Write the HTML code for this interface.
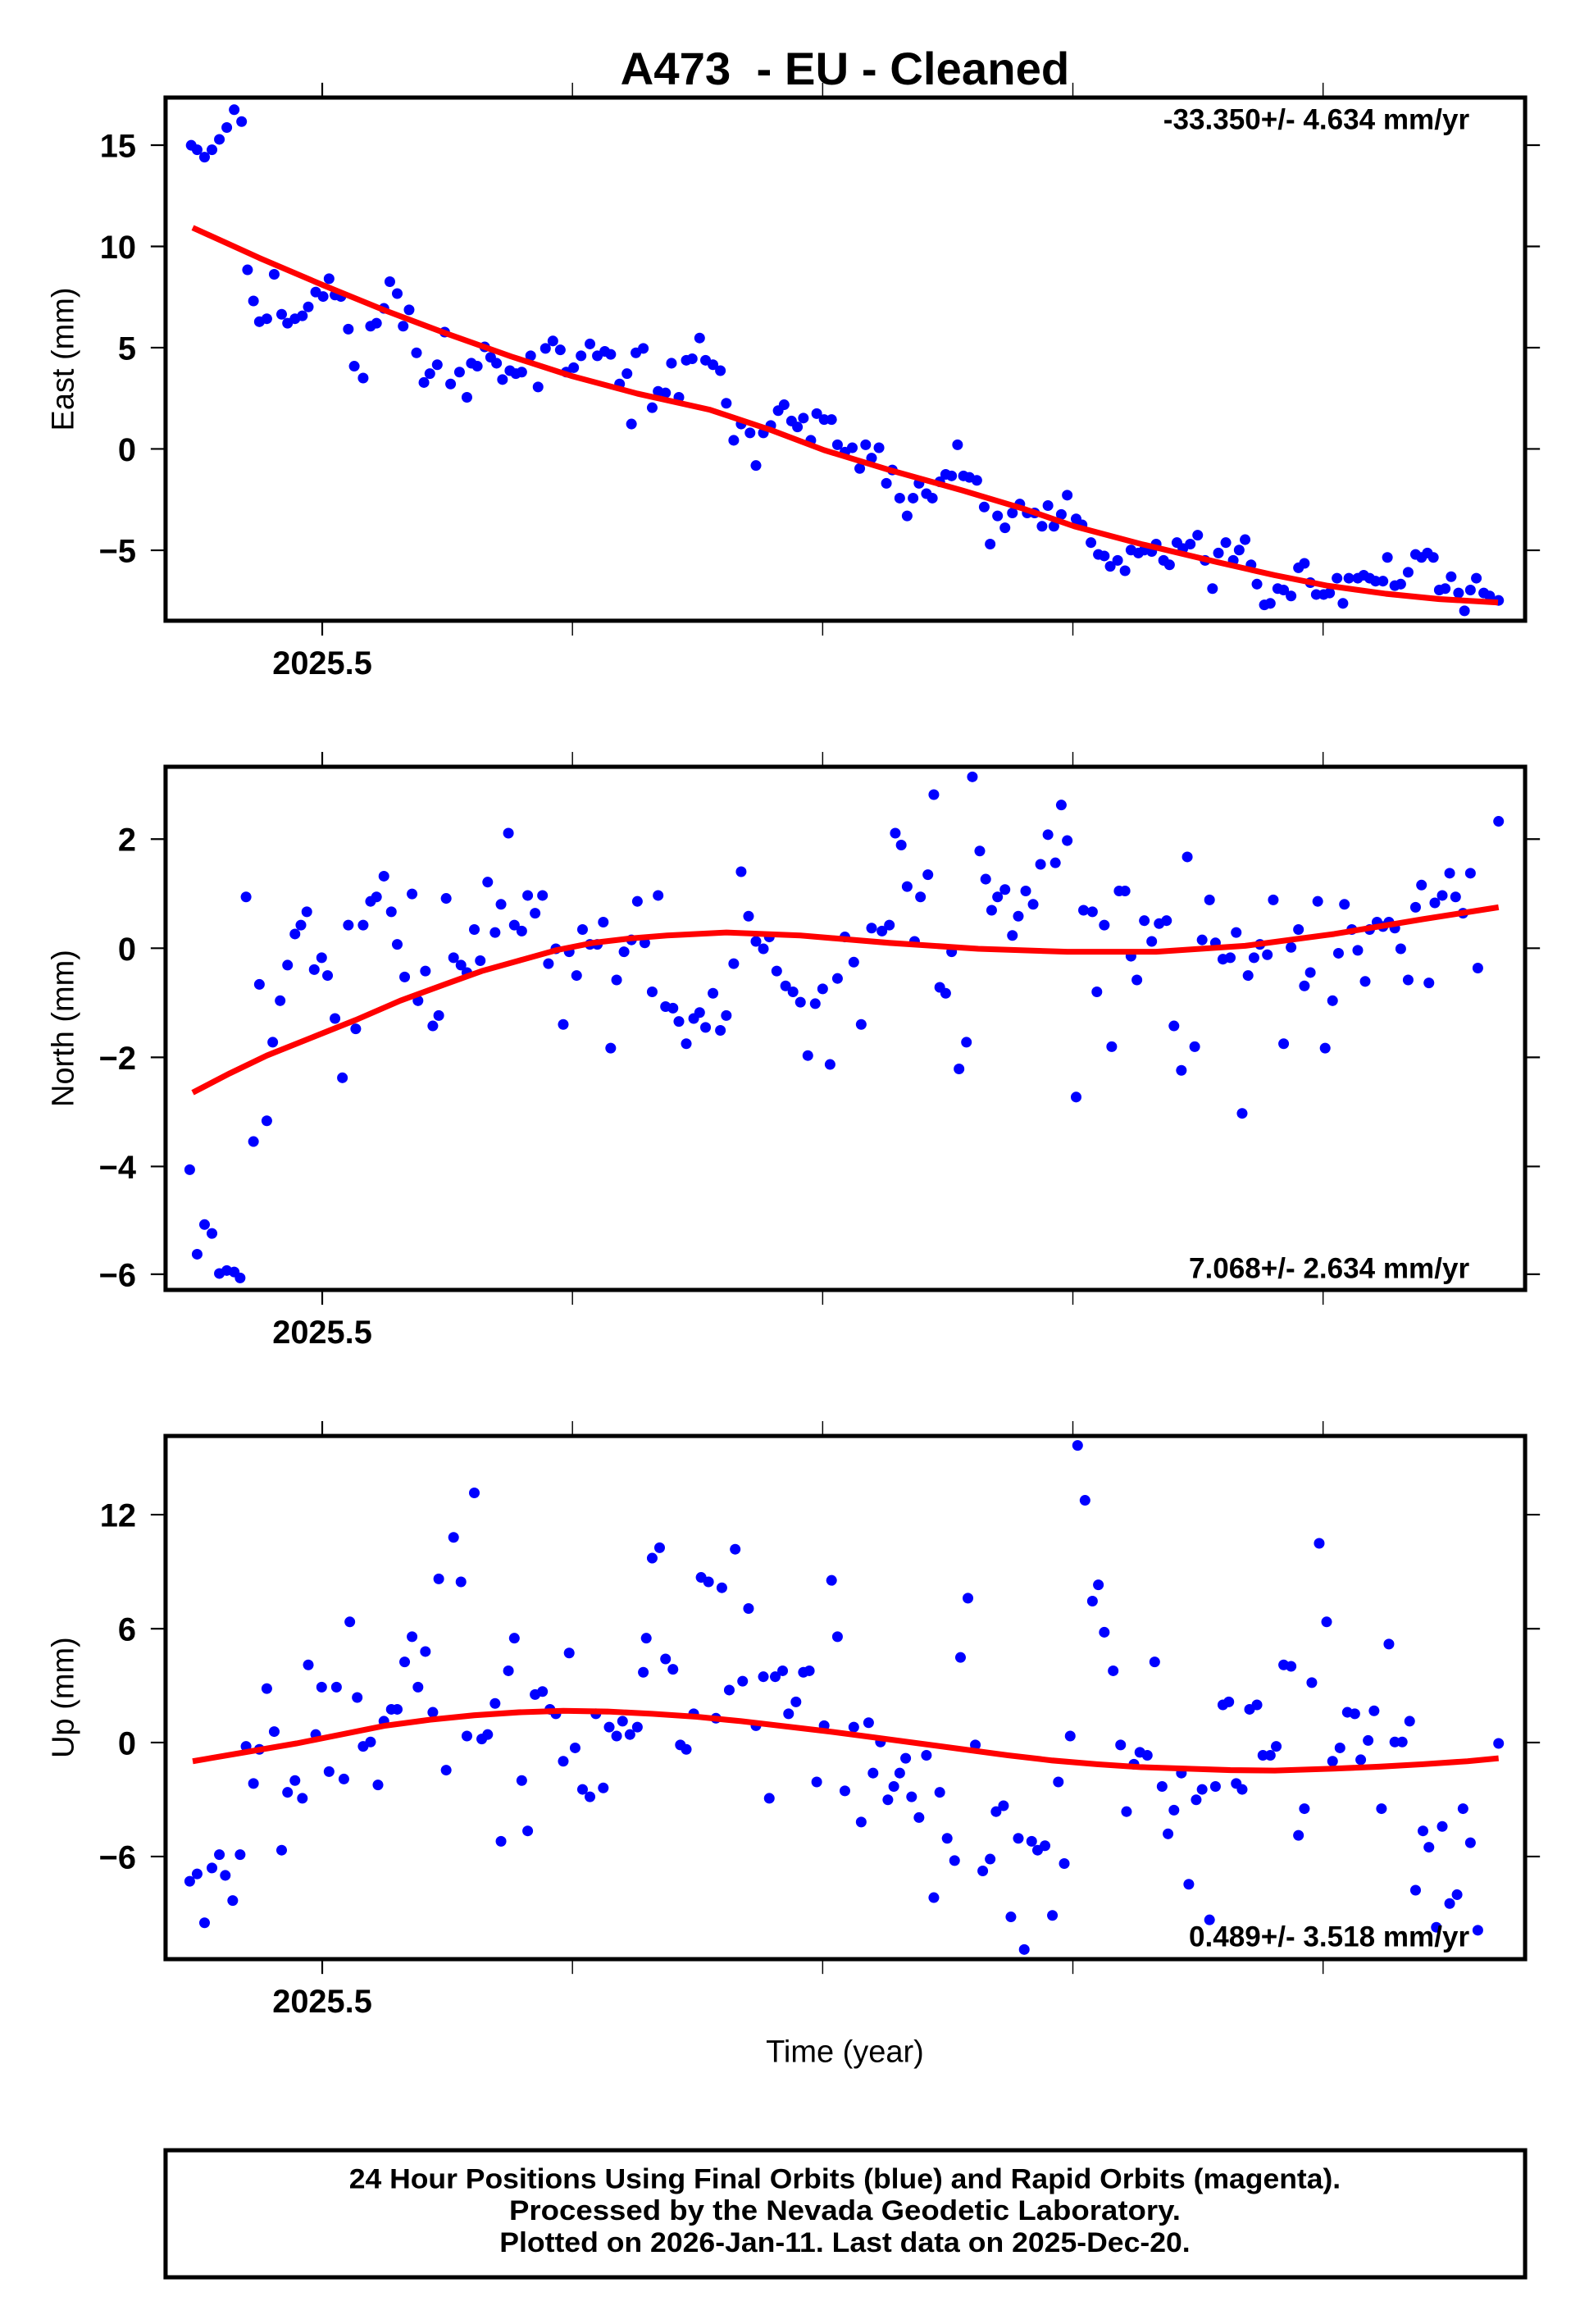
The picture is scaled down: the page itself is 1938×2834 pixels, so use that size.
<!DOCTYPE html>
<html><head><meta charset="utf-8"><style>
html,body{margin:0;padding:0;background:#fff;}
svg{display:block;}
text{font-family:"Liberation Sans",Arial,sans-serif;fill:#000;}
.b{font-weight:bold;}
</style></head><body>
<svg id="s" xmlns="http://www.w3.org/2000/svg" width="1938" height="2834" viewBox="0 0 1072 1567.6">
<rect width="1072" height="1567.6" fill="#fff"/>
<text x="570" y="57" text-anchor="middle" class="b" font-size="31" textLength="303" lengthAdjust="spacingAndGlyphs">A473&#160; - EU - Cleaned</text>
<g id="g"></g>
<text x="570" y="1391" text-anchor="middle" font-size="21">Time (year)</text>
<rect x="111.7" y="1450.4" width="917.2" height="85.7" fill="none" stroke="#000" stroke-width="2.8"/>
<text x="570" y="1476" text-anchor="middle" class="b" font-size="19" textLength="669" lengthAdjust="spacingAndGlyphs">24 Hour Positions Using Final Orbits (blue) and Rapid Orbits (magenta).</text>
<text x="570" y="1497.5" text-anchor="middle" class="b" font-size="19" textLength="453" lengthAdjust="spacingAndGlyphs">Processed by the Nevada Geodetic Laboratory.</text>
<text x="570" y="1519" text-anchor="middle" class="b" font-size="19" textLength="466" lengthAdjust="spacingAndGlyphs">Plotted on 2026-Jan-11. Last data on 2025-Dec-20.</text>
</svg>
<script>
var NS="http://www.w3.org/2000/svg",G=document.getElementById('g');
function el(t,a,txt){var e=document.createElementNS(NS,t);for(var k in a)e.setAttribute(k,a[k]);if(txt!==undefined)e.textContent=txt;G.appendChild(e);return e;}
function panel(top,title,yt,rate,rateY,pts,curve){
 var bot=top+352.9,L=111.7,R=1028.9;
 pts.forEach(function(p){el('circle',{cx:p[0],cy:p[1],r:3.6,fill:'#0000ff'});});
 el('polyline',{points:curve.map(function(p){return p.join(',')}).join(' '),fill:'none',stroke:'#ff0000','stroke-width':3.9,'stroke-linejoin':'round','stroke-linecap':'butt'});
 el('rect',{x:L,y:top,width:R-L,height:bot-top,fill:'none',stroke:'#000','stroke-width':2.8});
 for(var k=0;k<5;k++){var x=217.4+168.8*k;
  el('line',{x1:x,y1:top,x2:x,y2:top-10,stroke:'#000','stroke-width':k==0?1.2:0.8});
  el('line',{x1:x,y1:bot,x2:x,y2:bot+10,stroke:'#000','stroke-width':k==0?1.2:0.8});}
 yt.forEach(function(t){
  el('line',{x1:L-10,y1:t[1],x2:L,y2:t[1],stroke:'#000','stroke-width':1.2});
  el('line',{x1:R,y1:t[1],x2:R+10,y2:t[1],stroke:'#000','stroke-width':1.2});
  el('text',{x:91.8,y:t[1]+8,'text-anchor':'end','class':'b','font-size':22},t[0]);});
 el('text',{x:217.4,y:bot+36,'text-anchor':'middle','class':'b','font-size':22},'2025.5');
 el('text',{x:0,y:0,'text-anchor':'middle','font-size':21,transform:'translate(49.5,'+((top+bot)/2)+') rotate(-90)'},title);
 el('text',{x:991.3,y:rateY,'text-anchor':'end','class':'b','font-size':19.4},rate);
}
var E=[[129,98],[133,101],[138,106],[143,101],[148,94],[153,86],[158,74],[163,82],[167,182],[171,203],[175,217],[180,215],[185,185],[190,212],[194,218],[199,215],[204,213],[208,207],[213,197],[218,200],[222,188],[226,199],[230,200],[235,222],[239,247],[245,255],[250,220],[254,218],[259,208],[263,190],[268,198],[272,220],[276,209],[281,238],[286,258],[290,252],[295,246],[300,224],[304,259],[310,251],[315,268],[318,245],[322,247],[327,234],[331,241],[335,245],[339,256],[344,250],[348,252],[352,251],[358,240],[363,261],[368,235],[373,230],[378,236],[382,251],[387,248],[392,240],[398,232],[403,240],[408,237],[412,239],[418,259],[423,252],[426,286],[429,238],[434,235],[440,275],[444,264],[449,265],[453,245],[458,268],[463,243],[467,242],[472,228],[476,243],[481,246],[486,250],[490,272],[495,297],[500,286],[506,292],[510,314],[515,292],[520,287],[525,277],[529,273],[534,284],[538,288],[542,282],[547,297],[551,279],[556,283],[561,283],[565,300],[570,305],[575,302],[580,316],[584,300],[588,309],[593,302],[598,326],[602,317],[607,336],[612,348],[616,336],[620,326],[625,333],[629,336],[634,325],[638,320],[642,321],[646,300],[650,321],[654,322],[659,324],[664,342],[668,367],[673,348],[678,356],[683,346],[688,340],[693,346],[698,346],[703,355],[707,341],[711,355],[716,347],[720,334],[726,350],[730,354],[736,366],[741,374],[745,375],[749,382],[754,378],[759,385],[763,371],[768,373],[772,371],[777,372],[780,367],[785,378],[789,381],[794,366],[798,370],[803,367],[808,361],[813,378],[818,397],[822,373],[827,366],[832,378],[836,371],[840,364],[844,381],[848,394],[853,408],[857,407],[862,397],[866,398],[871,402],[876,383],[880,380],[884,393],[888,401],[893,401],[897,400],[902,390],[906,407],[910,390],[916,390],[920,388],[924,390],[928,392],[933,392],[936,376],[941,395],[945,394],[950,386],[955,374],[959,376],[963,373],[967,376],[971,398],[975,397],[979,389],[984,400],[988,412],[992,398],[996,390],[1001,400],[1005,402],[1011,405]];
var Ec=[[130,153.6],[175,174],[218.8,192.7],[260,209.5],[300.9,224.9],[345,240.5],[386.3,253.8],[430,265.5],[478.6,276.3],[520,290],[555.9,303.6],[600,317],[649.6,330.9],[690,343],[724.8,355],[770,367],[820.5,379],[860,388],[895.7,395.1],[935,400.5],[971,404.1],[1010.6,406.4]];
var N=[[128,789],[133,846],[138,826],[143,832],[148,859],[153,857],[158,858],[162,862],[166,605],[171,770],[175,664],[180,756],[184,703],[189,675],[194,651],[199,630],[203,624],[207,615],[212,654],[217,646],[221,658],[226,687],[231,727],[235,624],[240,694],[245,624],[250,608],[254,605],[259,591],[264,615],[268,637],[273,659],[278,603],[282,675],[287,655],[292,692],[296,685],[301,606],[306,646],[311,651],[315,656],[320,627],[324,648],[329,595],[334,629],[338,610],[343,562],[347,624],[352,628],[356,604],[361,616],[366,604],[370,650],[375,640],[380,691],[384,642],[389,658],[393,627],[398,637],[403,637],[407,622],[412,707],[416,661],[421,642],[426,634],[430,608],[435,636],[440,669],[444,604],[449,679],[454,680],[458,689],[463,704],[468,687],[472,683],[476,693],[481,670],[486,695],[490,685],[495,650],[500,588],[505,618],[510,635],[515,640],[519,632],[524,655],[530,665],[535,669],[540,676],[545,712],[550,677],[555,667],[560,718],[565,660],[570,632],[576,649],[581,691],[588,626],[595,628],[600,624],[604,562],[608,570],[612,598],[617,635],[621,605],[626,590],[630,536],[634,666],[638,670],[642,642],[647,721],[652,703],[656,524],[661,574],[665,593],[669,614],[673,605],[678,600],[683,631],[687,618],[692,601],[697,610],[702,583],[707,563],[712,582],[716,543],[720,567],[726,740],[731,614],[737,615],[740,669],[745,624],[750,706],[755,601],[759,601],[763,645],[767,661],[772,621],[777,635],[782,623],[787,621],[792,692],[797,722],[801,578],[806,706],[811,634],[816,607],[820,636],[825,647],[830,646],[834,629],[838,751],[842,658],[846,646],[850,637],[855,644],[859,607],[866,704],[871,639],[876,627],[880,665],[884,656],[889,608],[894,707],[899,675],[903,643],[907,610],[912,627],[916,641],[921,662],[924,627],[929,622],[933,625],[937,622],[941,626],[945,640],[950,661],[955,612],[959,597],[964,663],[968,609],[973,604],[978,589],[982,605],[987,616],[992,589],[997,653],[1011,554]];
var Nc=[[130,737],[155,724],[180,712],[210,700],[240,688],[270,675],[300,664],[325,655],[350,648],[375,641],[400,636],[425,633],[450,631],[490,629],[540,631],[600,636],[660,640],[720,642],[780,642],[840,638],[900,630],[960,620],[1011,612]];
var U=[[128,1269],[133,1264],[138,1297],[143,1260],[148,1251],[152,1265],[157,1282],[162,1251],[166,1178],[171,1203],[175,1180],[180,1139],[185,1168],[190,1248],[194,1209],[199,1201],[204,1213],[208,1123],[213,1170],[217,1138],[222,1195],[227,1138],[232,1200],[236,1094],[241,1145],[245,1178],[250,1175],[255,1204],[259,1161],[264,1153],[268,1153],[273,1121],[278,1104],[282,1138],[287,1114],[292,1155],[296,1065],[301,1194],[306,1037],[311,1067],[315,1171],[320,1007],[325,1173],[329,1170],[334,1149],[338,1242],[343,1127],[347,1105],[352,1201],[356,1235],[361,1143],[366,1141],[371,1153],[375,1156],[380,1188],[384,1115],[388,1179],[393,1207],[398,1212],[402,1156],[407,1206],[411,1165],[416,1171],[420,1161],[425,1170],[430,1165],[434,1128],[436,1105],[440,1051],[445,1044],[449,1119],[454,1126],[459,1177],[463,1180],[468,1156],[473,1064],[478,1067],[483,1159],[487,1071],[492,1140],[496,1045],[501,1134],[505,1085],[510,1164],[515,1131],[519,1213],[523,1131],[528,1127],[532,1156],[537,1148],[542,1128],[546,1127],[551,1202],[556,1164],[561,1066],[565,1104],[570,1208],[576,1165],[581,1229],[586,1162],[589,1196],[594,1175],[599,1214],[603,1205],[607,1196],[611,1186],[615,1212],[620,1226],[625,1184],[630,1280],[634,1209],[639,1240],[644,1255],[648,1118],[653,1078],[658,1177],[663,1262],[668,1254],[672,1222],[677,1218],[682,1293],[687,1240],[691,1315],[696,1242],[700,1248],[705,1245],[710,1292],[714,1202],[718,1257],[722,1171],[727,975],[732,1012],[737,1080],[741,1069],[745,1101],[751,1127],[756,1177],[760,1222],[765,1190],[769,1182],[774,1184],[779,1121],[784,1205],[788,1237],[792,1221],[797,1196],[802,1271],[807,1214],[811,1207],[816,1295],[820,1205],[825,1150],[829,1148],[834,1203],[838,1207],[843,1153],[848,1150],[852,1184],[857,1184],[861,1178],[866,1123],[871,1124],[876,1238],[880,1220],[885,1135],[890,1041],[895,1094],[899,1188],[904,1179],[909,1155],[914,1156],[918,1187],[923,1174],[927,1154],[932,1220],[937,1109],[941,1175],[946,1175],[951,1161],[955,1275],[960,1235],[964,1246],[969,1300],[973,1232],[978,1284],[983,1278],[987,1220],[992,1243],[997,1302],[1011,1176]];
var Uc=[[130,1188],[165,1182],[200,1176],[230,1170],[260,1164],[290,1160],[320,1157],[350,1155],[380,1154],[410,1154.5],[440,1156],[470,1158],[500,1161],[530,1164.5],[560,1168],[590,1172],[620,1176],[650,1180],[680,1184],[710,1187.5],[740,1190],[770,1192],[800,1193],[830,1194],[860,1194.3],[900,1193],[930,1191.7],[960,1190],[990,1188],[1011,1186]];
panel(65.8,'East (mm)',[['15',97.9],['10',166.2],['5',234.5],['0',302.8],['\u22125',371.2]],'-33.350+/- 4.634 mm/yr',87,E,Ec);
panel(517.2,'North (mm)',[['2',566],['0',639.6],['\u22122',713.2],['\u22124',786.8],['\u22126',859.5]],'7.068+/- 2.634 mm/yr',862,N,Nc);
panel(968.6,'Up (mm)',[['12',1021.7],['6',1098.6],['0',1175.4],['\u22126',1252.3]],'0.489+/- 3.518 mm/yr',1313,U,Uc);
</script>
</body></html>
